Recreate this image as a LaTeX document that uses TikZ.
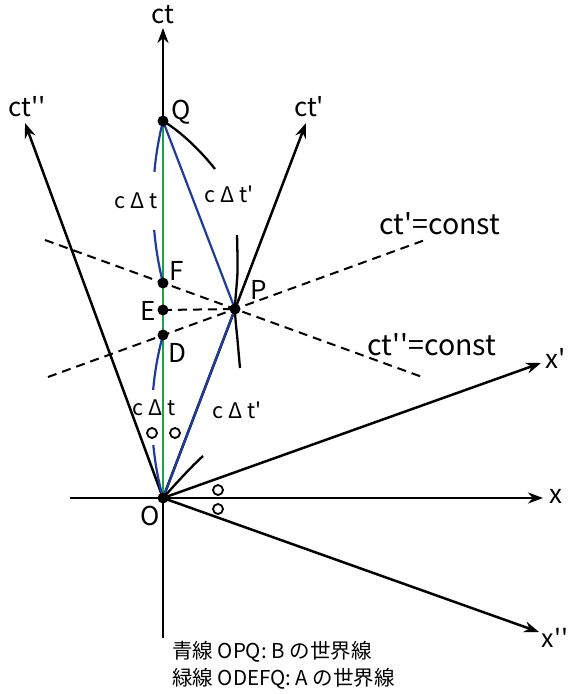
\documentclass[tikz,border=0pt]{standalone}
\usepackage{fontspec}
\setmainfont{Noto Sans CJK JP}[Ligatures=TeXOff]
\usetikzlibrary{arrows.meta}
\definecolor{lineblue}{HTML}{1E3C9C}
\definecolor{linegreen}{HTML}{1AA34A}

\begin{document}
\begin{tikzpicture}[x=1pt, y=-1pt,
  axisline/.style={line width=2.5pt, -{Stealth[length=15pt,width=11pt]}},
  worldB/.style={line width=2.2pt, draw=lineblue},
  worldA/.style={line width=2.2pt, draw=linegreen},
  simline/.style={line width=2pt, dash pattern=on 9pt off 6pt},
  arcline/.style={line width=2.3pt},
  anglemark/.style={circle, draw, line width=1.8pt, inner sep=0pt, minimum size=10pt},
  axlabel/.style={font=\fontsize{26}{30}\selectfont, inner sep=0pt},
  ptlabel/.style={font=\fontsize{26}{30}\selectfont, inner sep=0pt},
  lenlabel/.style={font=\fontsize{21.5}{24}\selectfont, inner sep=0pt},
  constlabel/.style={font=\fontsize{28.5}{32}\selectfont, inner sep=0pt}
]
\useasboundingbox (0,0) rectangle (570,694);

% -- Events on the world lines.
\coordinate (O) at (163,498);
\coordinate (D) at (163,335);
\coordinate (E) at (163,310);
\coordinate (F) at (163,283);
\coordinate (P) at (235,309);
\coordinate (Q) at (163,121);

% -- Axis end points.
\coordinate (ctTop)   at (163,28);
\coordinate (ctBot)   at (163,638);
\coordinate (xL)      at (70,498);
\coordinate (xR)      at (543,498);
\coordinate (xpEnd)   at (541,363);
\coordinate (xppEnd)  at (539,632);
\coordinate (ctpEnd)  at (306,123);
\coordinate (ctppEnd) at (25,123);

% -- Lines of simultaneity through P.
\coordinate (cpL)  at (48,377);
\coordinate (cpR)  at (425,240);
\coordinate (cppL) at (45,240);
\coordinate (cppR) at (425,378);
\draw[simline] (cpL) -- (cpR);
\draw[simline] (cppL) -- (cppR);
\draw[simline] (E) -- (P);

% -- Axes.
\draw[axisline] (ctBot) -- (ctTop);
\draw[axisline] (xL) -- (xR);
\draw[axisline] (O) -- (xpEnd);
\draw[axisline] (O) -- (xppEnd);
\draw[axisline] (O) -- (ctpEnd);
\draw[axisline] (O) -- (ctppEnd);

% -- World lines: A stays home, B goes out to P and back.
\draw[worldA] (O) -- (Q);
\draw[worldB] (O) -- (P) -- (Q);

% -- Blue length arcs beside the ct axis (broken for the labels).
\draw[worldB] plot[domain=165.92:175.2, samples=20] ({486+333*cos(\x)},{202+333*sin(\x)});
\draw[worldB] plot[domain=185.2:194.08, samples=20] ({486+333*cos(\x)},{202+333*sin(\x)});
\draw[worldB] plot[domain=164.63:174.68, samples=20] ({459.4+307.4*cos(\x)},{416.5+307.4*sin(\x)});
\draw[worldB] plot[domain=184.95:195.37, samples=20] ({459.4+307.4*cos(\x)},{416.5+307.4*sin(\x)});

% -- Black calibration arcs.
\draw[arcline] (Q) .. controls (180,131) and (200,150) .. (215,169);
\draw[arcline] (O) .. controls (180,479) and (192,466) .. (203,456);
\draw[arcline] plot[smooth] coordinates {(237,235) (237.5,272) (235,309) (237.5,340) (240,368)};

% -- Equal-angle marks.
\node[anglemark] (mA) at (152,433) {};
\node[anglemark] (mB) at (175,433) {};
\node[anglemark] (mC) at (218,490) {};
\node[anglemark] (mD) at (218,509) {};

% -- Event dots.
\foreach \p in {O,D,E,F,P,Q}
  \fill (\p) circle[radius=5.5pt];

% -- Axis labels.
\node[axlabel] (lct)   at (163,15)  {ct};
\node[axlabel] (lctpp) at (27,107)  {ct''};
\node[axlabel] (lctp)  at (309,107) {ct'};
\node[axlabel] (lx)    at (556,496) {x};
\node[axlabel] (lxp)   at (556,358) {x'};
\node[axlabel, font=\fontsize{25}{30}\selectfont] (lxpp) at (555,638) {x''};

% -- Event labels.
\node[ptlabel] (lQ) at (181,112) {Q};
\node[ptlabel] (lF) at (177,271) {F};
\node[ptlabel] (lE) at (148,311) {E};
\node[ptlabel] (lD) at (177,353) {D};
\node[ptlabel] (lP) at (259,290) {P};
\node[ptlabel] (lO) at (150,516) {O};

% -- Interval labels.
\node[lenlabel] (dtA1) at (136,201) {c Δ t};
\node[lenlabel] (dtA2) at (154,408) {c Δ t};
\node[lenlabel] (dtB1) at (229,194) {c Δ t'};
\node[lenlabel] (dtB2) at (237,410) {c Δ t'};

\node[constlabel] (lcp)  at (440,224) {ct'=const};
\node[constlabel] (lcpp) at (432,345) {ct''=const};

% -- Legend.
\node[anchor=north west, align=left, inner sep=0pt,
      font=\fontsize{20.5}{27}\selectfont] (legend) at (172,641)
  {青線 OPQ: B の世界線\\緑線 ODEFQ: A の世界線};
\end{tikzpicture}
\end{document}
